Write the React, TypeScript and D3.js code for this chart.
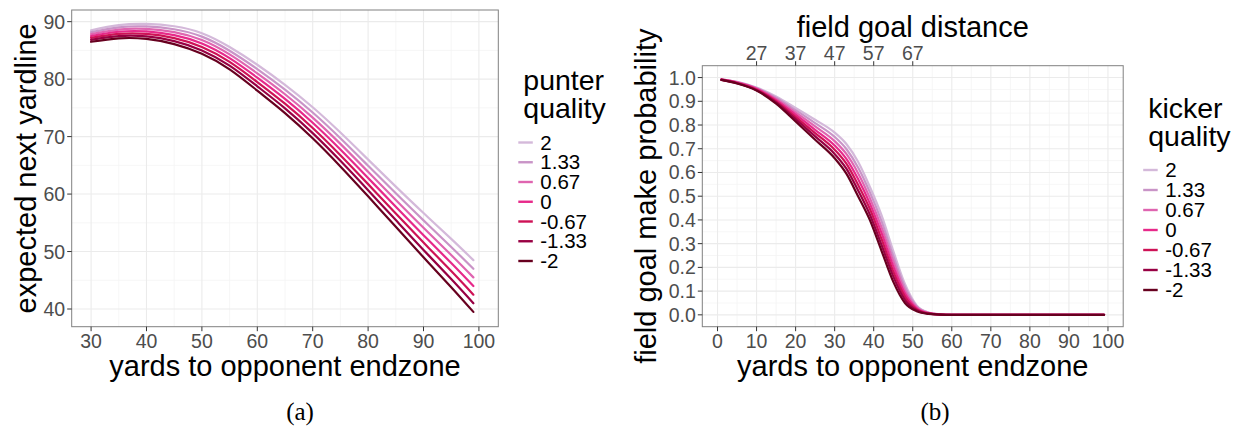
import * as d3 from 'd3'

// legend levels (top to bottom) and their colours
const qualityLabels = ['2', '1.33', '0.67', '0', '-0.67', '-1.33', '-2']
const qualityColors = ['#d4b9da', '#c994c7', '#df65b0', '#e7298a', '#ce1256', '#980043', '#67001f']

// panel (a): expected next yardline after a punt
const puntYards = [30, 35, 40, 45, 50, 55, 60, 65, 70, 75, 80, 85, 90, 95, 99]
const punt_q2 = [88.5, 89.4, 89.6, 89.2, 88.0, 85.6, 82.5, 79.0, 75.1, 70.7, 66.0, 61.3, 56.7, 52.2, 48.5]
const punt_q133 = [88.17, 89.02, 89.17, 88.68, 87.4, 84.95, 81.75, 78.18, 74.2, 69.72, 64.93, 60.13, 55.42, 50.8, 47.0]
const punt_q067 = [87.83, 88.63, 88.73, 88.17, 86.8, 84.3, 81.0, 77.37, 73.3, 68.73, 63.87, 58.97, 54.13, 49.4, 45.5]
const punt_q0 = [87.5, 88.25, 88.3, 87.65, 86.2, 83.65, 80.25, 76.55, 72.4, 67.75, 62.8, 57.8, 52.85, 48.0, 44.0]
const punt_qm067 = [87.17, 87.87, 87.87, 87.13, 85.6, 83.0, 79.5, 75.73, 71.5, 66.77, 61.73, 56.63, 51.57, 46.6, 42.5]
const punt_qm133 = [86.83, 87.48, 87.43, 86.62, 85.0, 82.35, 78.75, 74.92, 70.6, 65.78, 60.67, 55.47, 50.28, 45.2, 41.0]
const punt_qm2 = [86.5, 87.1, 87.0, 86.1, 84.4, 81.7, 78.0, 74.1, 69.7, 64.8, 59.6, 54.3, 49.0, 43.8, 39.5]

// panel (b): field goal make probability
const fgYards = [1, 5, 10, 15, 20, 25, 30, 33, 36, 39, 42, 45, 48, 51, 54, 57, 60, 70, 80, 90, 99]
const fg_q2 = [0.993, 0.982, 0.958, 0.92, 0.872, 0.822, 0.768, 0.72, 0.645, 0.54, 0.42, 0.27, 0.13, 0.04, 0.01, 0.002, 0, 0, 0, 0, 0]
const fg_q133 = [0.992, 0.981, 0.956, 0.915, 0.8625, 0.808, 0.75, 0.699, 0.621, 0.517, 0.395, 0.248, 0.117, 0.036, 0.009, 0.002, 0, 0, 0, 0, 0]
const fg_q067 = [0.992, 0.98, 0.954, 0.91, 0.853, 0.794, 0.732, 0.678, 0.597, 0.493, 0.37, 0.227, 0.103, 0.032, 0.008, 0.002, 0, 0, 0, 0, 0]
const fg_q0 = [0.991, 0.9785, 0.9515, 0.905, 0.8435, 0.78, 0.714, 0.6575, 0.5725, 0.47, 0.345, 0.205, 0.09, 0.0275, 0.007, 0.0015, 0, 0, 0, 0, 0]
const fg_qm067 = [0.991, 0.977, 0.949, 0.9, 0.834, 0.766, 0.696, 0.637, 0.548, 0.447, 0.32, 0.183, 0.077, 0.023, 0.006, 0.001, 0, 0, 0, 0, 0]
const fg_qm133 = [0.99, 0.976, 0.947, 0.895, 0.8245, 0.752, 0.678, 0.616, 0.524, 0.423, 0.295, 0.162, 0.063, 0.019, 0.005, 0.001, 0, 0, 0, 0, 0]
const fg_qm2 = [0.99, 0.975, 0.945, 0.89, 0.815, 0.738, 0.66, 0.595, 0.5, 0.4, 0.27, 0.14, 0.05, 0.015, 0.004, 0.001, 0, 0, 0, 0, 0]

const fgDistanceTicks = [27, 37, 47, 57, 67]

const puntSeries = [punt_q2, punt_q133, punt_q067, punt_q0, punt_qm067, punt_qm133, punt_qm2]
const fgSeries = [fg_q2, fg_q133, fg_q067, fg_q0, fg_qm067, fg_qm133, fg_qm2]

const SANS = '"Liberation Sans", Arial, Helvetica, sans-serif'
const SERIF = '"Liberation Serif", "DejaVu Serif", serif'
const GRID = '#ebebeb'
const MINOR = '#f4f4f4'
const TICK_TXT = '#4d4d4d'

type Pt = [number, number]

function Panel(props: {
  x: d3.ScaleLinear<number, number>
  y: d3.ScaleLinear<number, number>
  xMajor: number[]
  xMinor: number[]
  yMajor: number[]
  yMinor: number[]
  yFmt: (v: number) => string
  xs: number[]
  series: number[][]
  curve: d3.CurveFactory
}) {
  const { x, y, xMajor, xMinor, yMajor, yMinor, yFmt, xs, series, curve } = props
  const [x0, x1] = x.range()
  const [y0, y1] = y.range()
  const line = d3.line<Pt>().x(d => x(d[0])).y(d => y(d[1])).curve(curve)
  return (
    <g>
      <rect x={x0} y={y1} width={x1 - x0} height={y0 - y1} fill="#fff" />
      {xMinor.map(v => <line key={'xm' + v} x1={x(v)} x2={x(v)} y1={y1} y2={y0} stroke={MINOR} strokeWidth={0.8} />)}
      {yMinor.map(v => <line key={'ym' + v} x1={x0} x2={x1} y1={y(v)} y2={y(v)} stroke={MINOR} strokeWidth={0.8} />)}
      {xMajor.map(v => <line key={'xM' + v} x1={x(v)} x2={x(v)} y1={y1} y2={y0} stroke={GRID} strokeWidth={1.1} />)}
      {yMajor.map(v => <line key={'yM' + v} x1={x0} x2={x1} y1={y(v)} y2={y(v)} stroke={GRID} strokeWidth={1.1} />)}
      {series.map((vals, i) => (
        <path key={i} d={line(xs.map((xv, j) => [xv, vals[j]] as Pt)) || ''}
          fill="none" stroke={qualityColors[i]} strokeWidth={2.2} strokeLinecap="round" />
      ))}
      <rect x={x0} y={y1} width={x1 - x0} height={y0 - y1} fill="none" stroke="#808080" strokeWidth={1} />
      {xMajor.map(v => (
        <g key={'xt' + v}>
          <line x1={x(v)} x2={x(v)} y1={y0} y2={y0 + 4.5} stroke="#333" strokeWidth={1} />
          <text x={x(v)} y={348} textAnchor="middle" fontSize={19.5} fill={TICK_TXT} fontFamily={SANS}>{v}</text>
        </g>
      ))}
      {yMajor.map(v => (
        <g key={'yt' + v}>
          <line x1={x0 - 4.5} x2={x0} y1={y(v)} y2={y(v)} stroke="#333" strokeWidth={1} />
          <text x={x0 - 6.5} y={y(v) + 7} textAnchor="end" fontSize={19.5} fill={TICK_TXT} fontFamily={SANS}>{yFmt(v)}</text>
        </g>
      ))}
    </g>
  )
}

function Legend({ x, titleY, itemY, step, title }: { x: number; titleY: number; itemY: number; step: number; title: string[] }) {
  return (
    <g fontFamily={SANS}>
      {title.map((t, i) => (
        <text key={t} x={x + 5} y={titleY + i * 28} fontSize={28.5} fill="#000">{t}</text>
      ))}
      {qualityLabels.map((lab, i) => (
        <g key={lab}>
          <line x1={x} x2={x + 14.5} y1={itemY + i * step} y2={itemY + i * step} stroke={qualityColors[i]} strokeWidth={2.4} />
          <text x={x + 22} y={itemY + i * step + 7} fontSize={20.5} fill="#000">{lab}</text>
        </g>
      ))}
    </g>
  )
}

export default function App() {
  const xa = d3.scaleLinear().domain([26.5, 103.5]).range([71.7, 498.3])
  const ya = d3.scaleLinear().domain([36.92, 92.03]).range([326.7, 10])
  const xb = d3.scaleLinear().domain([-3.9, 103.9]).range([702.3, 1123.2])
  const yb = d3.scaleLinear().domain([-0.05, 1.05]).range([326.7, 65.7])

  const rangeBy = (a: number, b: number, s: number) => d3.range(a, b + s / 2, s).map(v => Math.round(v * 1000) / 1000)

  return (
    <svg width={1239} height={427} style={{ position: 'absolute', left: 0, top: 0, background: '#fff' }}>
      <rect width={1239} height={427} fill="#fff" />
      <Panel x={xa} y={ya}
        xMajor={rangeBy(30, 100, 10)} xMinor={rangeBy(35, 95, 10)}
        yMajor={rangeBy(40, 90, 10)} yMinor={rangeBy(45, 85, 10)}
        yFmt={v => String(v)} xs={puntYards} series={puntSeries} curve={d3.curveNatural} />
      <text transform={`translate(36,${(10 + 326.7) / 2}) rotate(-90)`} textAnchor="middle" fontSize={29} fontFamily={SANS}>expected next yardline</text>
      <text x={(71.7 + 498.3) / 2} y={376} textAnchor="middle" fontSize={29} fontFamily={SANS}>yards to opponent endzone</text>
      <Legend x={518.3} titleY={89.5} itemY={142.5} step={19.75} title={['punter', 'quality']} />

      <Panel x={xb} y={yb}
        xMajor={rangeBy(0, 100, 10)} xMinor={rangeBy(5, 95, 10)}
        yMajor={rangeBy(0, 1, 0.1)} yMinor={rangeBy(0.05, 0.95, 0.1)}
        yFmt={v => d3.format('.1f')(v)} xs={fgYards} series={fgSeries} curve={d3.curveMonotoneX} />
      {fgDistanceTicks.map(d => (
        <g key={'fd' + d}>
          <line x1={xb(d - 17)} x2={xb(d - 17)} y1={65.7} y2={61.2} stroke="#333" strokeWidth={1} />
          <text x={xb(d - 17)} y={59.5} textAnchor="middle" fontSize={19.5} fill={TICK_TXT} fontFamily={SANS}>{d}</text>
        </g>
      ))}
      <text x={(702.3 + 1123.2) / 2} y={37} textAnchor="middle" fontSize={29} fontFamily={SANS}>field goal distance</text>
      <text transform={`translate(656,${(65.7 + 326.7) / 2}) rotate(-90)`} textAnchor="middle" fontSize={29} fontFamily={SANS}>field goal make probability</text>
      <text x={(702.3 + 1123.2) / 2} y={376} textAnchor="middle" fontSize={29} fontFamily={SANS}>yards to opponent endzone</text>
      <Legend x={1143.2} titleY={118} itemY={170} step={20} title={['kicker', 'quality']} />

      <text x={300} y={420} textAnchor="middle" fontSize={25} fontFamily={SERIF}>(a)</text>
      <text x={935} y={420} textAnchor="middle" fontSize={25} fontFamily={SERIF}>(b)</text>
    </svg>
  )
}
